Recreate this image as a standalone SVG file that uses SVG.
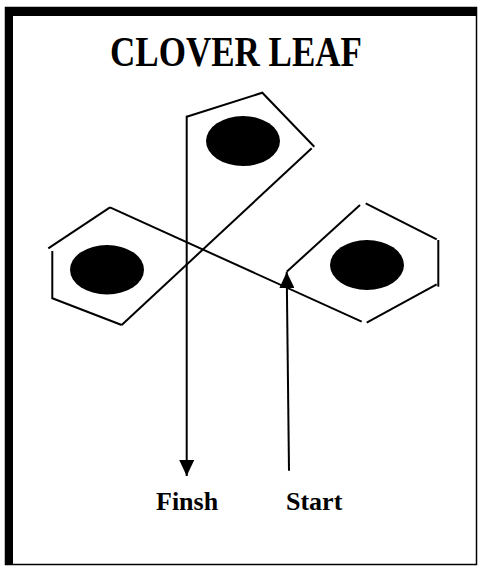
<svg xmlns="http://www.w3.org/2000/svg" width="478" height="568" viewBox="0 0 478 568">
<style>
.ln{fill:none;stroke:#000;stroke-width:2;stroke-linecap:butt;stroke-linejoin:miter}
.dot{fill:#000}
.t{font-family:"Liberation Serif","Times New Roman",serif;font-weight:bold;fill:#000}
</style>
<defs>
<marker id="ah" markerUnits="userSpaceOnUse" viewBox="0 0 16 15" refX="16" refY="7.5" markerWidth="16" markerHeight="15" orient="auto">
<path d="M0,0 L16,7.5 L0,15 z" fill="#000"/>
</marker>
</defs>
<rect x="0" y="0" width="478" height="568" fill="#fff"/>
<g id="frame">
<rect x="5.5" y="7.5" width="471" height="557" fill="none" stroke="#000" stroke-width="1.5"/>
<rect x="5" y="7" width="8" height="558" fill="#000"/>
<rect x="5" y="7" width="472" height="9" fill="#000"/>
</g>
<g id="title"><text class="t" x="236" y="66" font-size="43" text-anchor="middle" textLength="252" lengthAdjust="spacingAndGlyphs">CLOVER LEAF</text></g>
<g id="leaf-top">
<path class="ln" d="M186.7,116.7 L262.3,92.7 L314.3,146.7"/>
<ellipse class="dot" cx="243" cy="141" rx="37" ry="25"/>
</g>
<g id="leaf-left">
<path class="ln" d="M110,207.3 L48.3,248.3"/>
<path class="ln" d="M52.3,251 L52.3,298.3 L121.7,325"/>
<ellipse class="dot" cx="107" cy="269.7" rx="37" ry="24.7"/>
</g>
<g id="leaf-right">
<path class="ln" d="M286.7,271.7 L360,205"/>
<path class="ln" d="M365.7,203.3 L436.7,239.3"/>
<path class="ln" d="M438.3,240 L438.3,286.7"/>
<path class="ln" d="M436.7,284.3 L366.7,322.7"/>
<ellipse class="dot" cx="367" cy="265" rx="37" ry="25"/>
</g>
<g id="connectors">
<path class="ln" d="M289,470.7 L286.7,272" marker-end="url(#ah)"/>
<path class="ln" d="M110,207.3 L361.7,321.7"/>
<path class="ln" d="M311.7,148.3 L121.7,325"/>
<path class="ln" d="M186.7,115.7 L186.7,476" marker-end="url(#ah)"/>
</g>
<g id="labels">
<text class="t" x="156" y="510" font-size="26">Finsh</text>
<text class="t" x="286" y="510" font-size="26">Start</text>
</g>
</svg>
